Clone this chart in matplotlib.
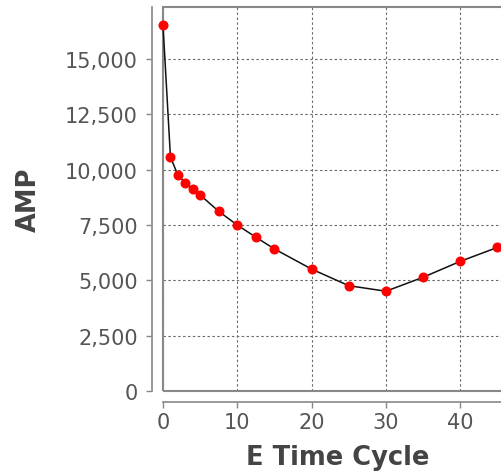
import matplotlib
matplotlib.use('Agg')
import matplotlib.pyplot as plt
from matplotlib.patches import Rectangle
from matplotlib.ticker import FuncFormatter, MultipleLocator

# E time cycle vs AMP
cycle = [0, 1, 2, 3, 4, 5, 7.5, 10, 12.5, 15, 20, 25, 30, 35, 40, 45]
amp = [16550, 10580, 9760, 9410, 9120, 8860, 8120, 7500, 6950, 6420,
       5510, 4760, 4510, 5140, 5860, 6490]

x_label = 'E Time Cycle'
y_label = 'AMP'

fig = plt.figure(figsize=(5.02, 4.77), dpi=100)
ax = fig.add_axes([163 / 502, 85 / 477, 350 / 502, 384 / 477])

ax.plot(cycle, amp, color='#111111', linewidth=1.1, zorder=3, clip_on=False)
ax.plot(cycle, amp, linestyle='none', marker='o', markersize=6.2,
        color='red', markeredgecolor='red', zorder=4, clip_on=False)

ax.set_xlim(0, 47.1)
ax.set_ylim(0, 17357)
ax.xaxis.set_major_locator(MultipleLocator(10))
ax.yaxis.set_major_locator(MultipleLocator(2500))
ax.yaxis.set_major_formatter(FuncFormatter(lambda v, p: '{:,.0f}'.format(v)))

ax.grid(True, color='#6a6a6a', linestyle=(0, (2.2, 2.2)), linewidth=0.8)
ax.set_axisbelow(True)

# axis lines offset from the plot area, like the original
for side in ['left', 'bottom']:
    ax.spines[side].set_position(('outward', 8))
    ax.spines[side].set_color('#888888')
    ax.spines[side].set_linewidth(1.2)
for side in ['top', 'right']:
    ax.spines[side].set_visible(False)

# plot area outline
ax.add_patch(Rectangle((0, 0), 1, 1, transform=ax.transAxes, fill=False,
                       edgecolor='#888888', linewidth=1.5, zorder=2,
                       clip_on=False))

ax.tick_params(axis='both', length=4, width=1, color='#888888',
               labelcolor='#555555', labelsize=15)
ax.tick_params(axis='y', pad=6)
ax.tick_params(axis='x', pad=3)

ax.set_xlabel(x_label, fontsize=18.5, fontweight='bold', color='#444444')
ax.set_ylabel(y_label, fontsize=18.5, fontweight='bold', color='#444444')
ax.xaxis.set_label_coords(0.5, -0.138)
ax.yaxis.set_label_coords(-0.345, 0.5)

fig.savefig('out.png', dpi=100)
